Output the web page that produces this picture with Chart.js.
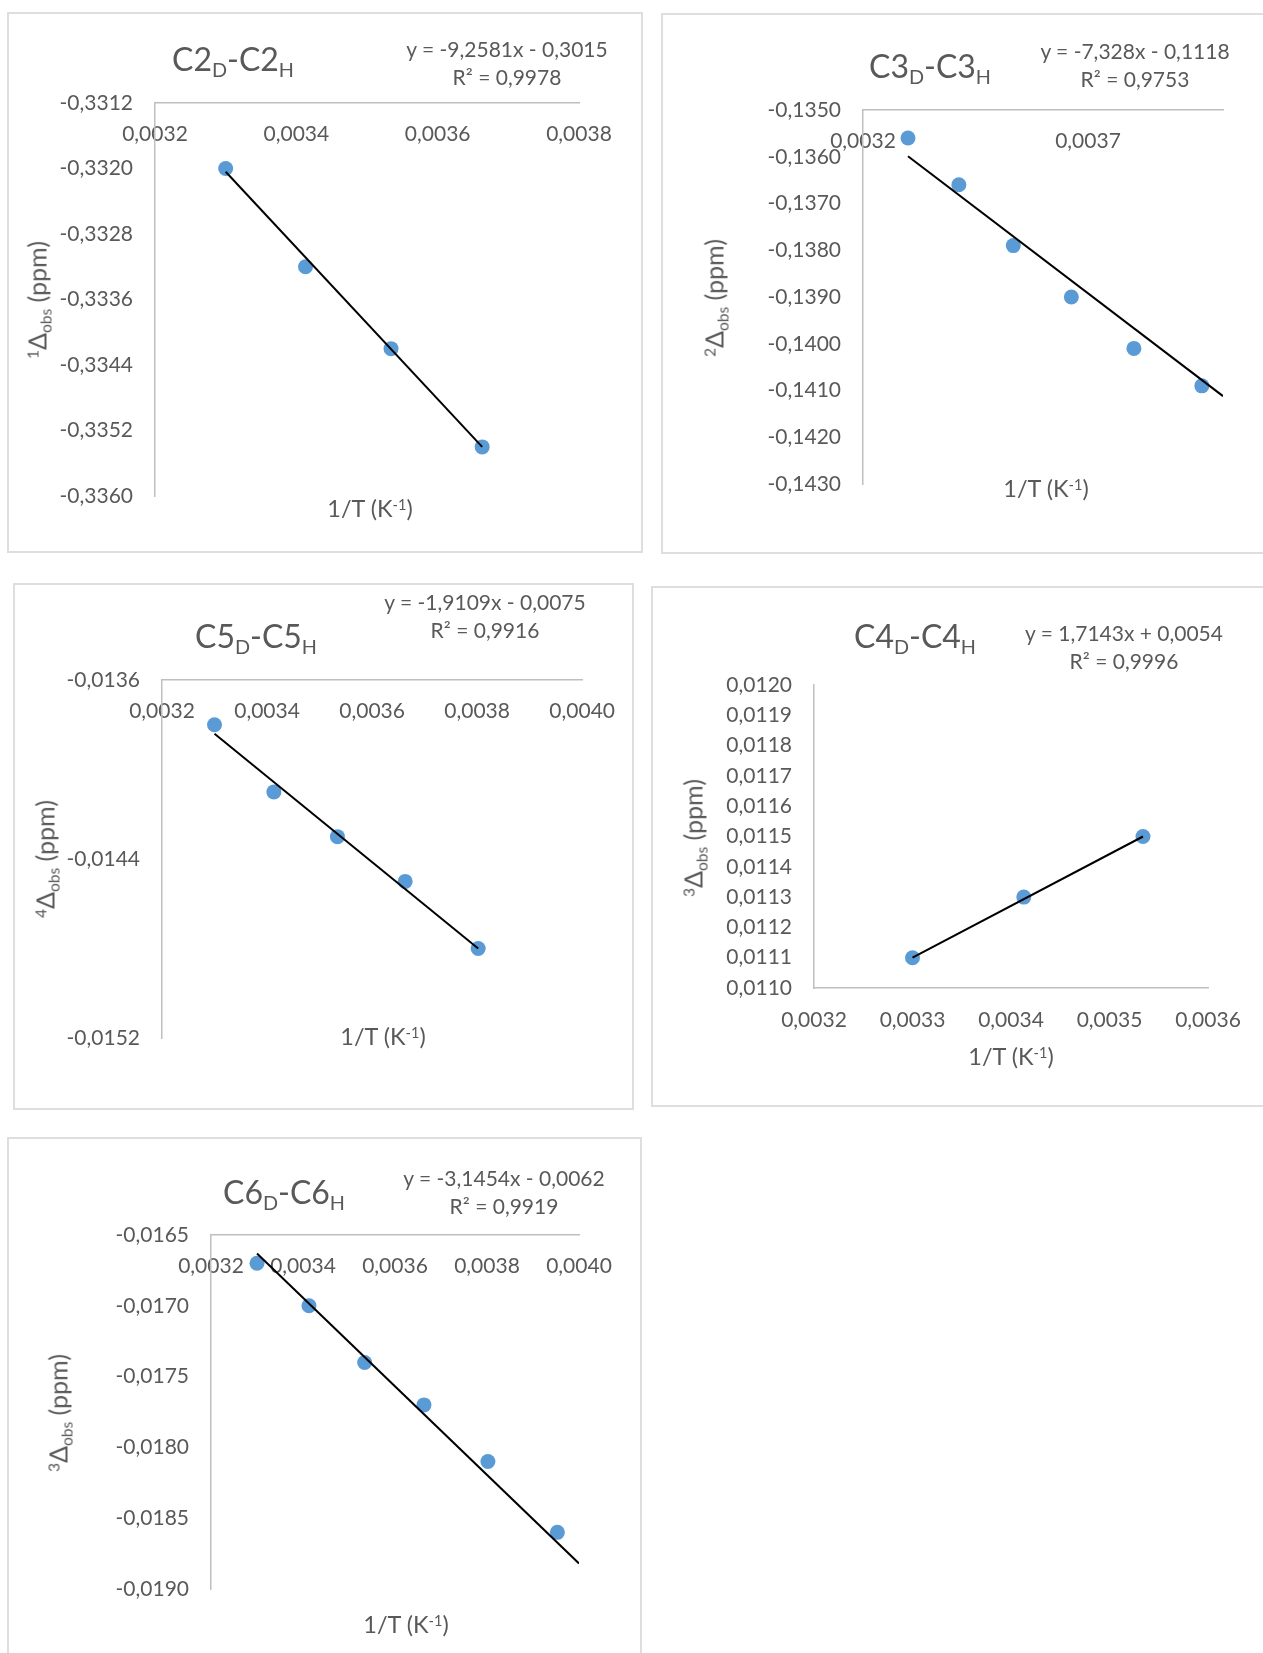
<!DOCTYPE html>
<html>
<head>
<meta charset="utf-8">
<script src="https://cdn.jsdelivr.net/npm/chart.js@4.4.1/dist/chart.umd.min.js"></script>
<style>
  html, body { margin: 0; padding: 0; background: #fff; }
  body {
    width: 1263px; height: 1653px; position: relative; overflow: hidden;
    font-family: Lato, "Open Sans", sans-serif; color: #595959;
  }
  .panel { position: absolute; box-sizing: border-box; border: 2px solid #dedede; }
  canvas { position: absolute; }
  .t { position: absolute; white-space: nowrap; line-height: 1; transform: translate(-50%, -50%); }
  .title { font-size: 32px; }
  .eq { font-size: 21px; line-height: 28px; text-align: center; }
  .ax { font-size: 23.5px; }
  .yt { font-size: 25px; transform: translate(-50%, -50%) rotate(-90deg); }
  sub { font-size: 0.62em; vertical-align: -0.3em; line-height: 0; }
  sup { font-size: 0.62em; vertical-align: 0.5em; line-height: 0; }
</style>
</head>
<body>
<script>
// values

// C2D-C2H
const c2X = [0.003300, 0.003413, 0.003534, 0.003663]
const c2Y = [-0.3320, -0.3332, -0.3342, -0.3354]
const c2TrendX = [0.003300, 0.003663]
const c2TrendY = [-0.33204, -0.33540]
const c2XTicks = [0.0032, 0.0034, 0.0036, 0.0038]
const c2YTicks = [-0.3312, -0.3320, -0.3328, -0.3336, -0.3344, -0.3352, -0.3360]
const c2Eq = ['y = -9,2581x - 0,3015', 'R² = 0,9978']

// C3D-C3H
const c3X = [0.003300, 0.003413, 0.003534, 0.003663, 0.003802, 0.003953]
const c3Y = [-0.1356, -0.1366, -0.1379, -0.1390, -0.1401, -0.1409]
const c3TrendX = [0.003300, 0.004000]
const c3TrendY = [-0.13599, -0.14112]
const c3XTicks = [0.0032, 0.0037]
const c3YTicks = [-0.1350, -0.1360, -0.1370, -0.1380, -0.1390, -0.1400, -0.1410, -0.1420, -0.1430]
const c3Eq = ['y = -7,328x - 0,1118', 'R² = 0,9753']

// C5D-C5H
const c5X = [0.003300, 0.003413, 0.003534, 0.003663, 0.003802]
const c5Y = [-0.0138, -0.0141, -0.0143, -0.0145, -0.0148]
const c5TrendX = [0.003300, 0.003802]
const c5TrendY = [-0.01384, -0.01480]
const c5XTicks = [0.0032, 0.0034, 0.0036, 0.0038, 0.0040]
const c5YTicks = [-0.0136, -0.0144, -0.0152]
const c5Eq = ['y = -1,9109x - 0,0075', 'R² = 0,9916']

// C4D-C4H
const c4X = [0.003300, 0.003413, 0.003534]
const c4Y = [0.0111, 0.0113, 0.0115]
const c4TrendX = [0.003300, 0.003534]
const c4TrendY = [0.01110, 0.01150]
const c4XTicks = [0.0032, 0.0033, 0.0034, 0.0035, 0.0036]
const c4YTicks = [0.0110, 0.0111, 0.0112, 0.0113, 0.0114, 0.0115, 0.0116, 0.0117, 0.0118, 0.0119, 0.0120]
const c4Eq = ['y = 1,7143x + 0,0054', 'R² = 0,9996']

// C6D-C6H
const c6X = [0.003300, 0.003413, 0.003534, 0.003663, 0.003802, 0.003953]
const c6Y = [-0.0167, -0.0170, -0.0174, -0.0177, -0.0181, -0.0186]
const c6TrendX = [0.003300, 0.004000]
const c6TrendY = [-0.01663, -0.01882]
const c6XTicks = [0.0032, 0.0034, 0.0036, 0.0038, 0.0040]
const c6YTicks = [-0.0165, -0.0170, -0.0175, -0.0180, -0.0185, -0.0190]
const c6Eq = ['y = -3,1454x - 0,0062', 'R² = 0,9919']

const xAxisLabel = '1/T (K<sup>-1</sup>)'

// page layout: frame box [left, top, width, height], plot area [left, top, right, bottom]
const panels = [
  {
    box: [7, 12, 636, 541], area: [155, 103, 579, 496], xTop: true, xMin: 0.0032, xMax: 0.0038,
    x: c2X, y: c2Y, trendX: c2TrendX, trendY: c2TrendY, xTicks: c2XTicks, yTicks: c2YTicks, eq: c2Eq,
    title: 'C2<sub>D</sub>-C2<sub>H</sub>', titleAt: [233, 59], eqAt: [507, 63],
    yLabel: '<sup>1</sup>Δ<sub>obs</sub> (ppm)', yLabelAt: [37, 300], xLabelAt: [370, 509]
  },
  {
    box: [661, 13, 636, 541], area: [863, 110, 1223, 484], xTop: true, xMin: 0.0032, xMax: 0.0040,
    x: c3X, y: c3Y, trendX: c3TrendX, trendY: c3TrendY, xTicks: c3XTicks, yTicks: c3YTicks, eq: c3Eq,
    title: 'C3<sub>D</sub>-C3<sub>H</sub>', titleAt: [930, 66], eqAt: [1135, 65],
    yLabel: '<sup>2</sup>Δ<sub>obs</sub> (ppm)', yLabelAt: [714, 298], xLabelAt: [1046, 489]
  },
  {
    box: [13, 583, 621, 527], area: [162, 680, 583, 1038], xTop: true, xMin: 0.0032, xMax: 0.0040,
    x: c5X, y: c5Y, trendX: c5TrendX, trendY: c5TrendY, xTicks: c5XTicks, yTicks: c5YTicks, eq: c5Eq,
    title: 'C5<sub>D</sub>-C5<sub>H</sub>', titleAt: [256, 636], eqAt: [485, 616],
    yLabel: '<sup>4</sup>Δ<sub>obs</sub> (ppm)', yLabelAt: [45, 859], xLabelAt: [383, 1037]
  },
  {
    box: [651, 586, 626, 521], area: [814, 685, 1208, 988], xTop: false, xMin: 0.0032, xMax: 0.0036,
    x: c4X, y: c4Y, trendX: c4TrendX, trendY: c4TrendY, xTicks: c4XTicks, yTicks: c4YTicks, eq: c4Eq,
    title: 'C4<sub>D</sub>-C4<sub>H</sub>', titleAt: [915, 636], eqAt: [1124, 647],
    yLabel: '<sup>3</sup>Δ<sub>obs</sub> (ppm)', yLabelAt: [693, 838], xLabelAt: [1011, 1057]
  },
  {
    box: [7, 1137, 635, 541], area: [211, 1235, 579, 1589], xTop: true, xMin: 0.0032, xMax: 0.0040,
    x: c6X, y: c6Y, trendX: c6TrendX, trendY: c6TrendY, xTicks: c6XTicks, yTicks: c6YTicks, eq: c6Eq,
    title: 'C6<sub>D</sub>-C6<sub>H</sub>', titleAt: [284, 1192], eqAt: [504, 1192],
    yLabel: '<sup>3</sup>Δ<sub>obs</sub> (ppm)', yLabelAt: [58, 1413], xLabelAt: [406, 1625]
  }
]

const tickFont = { family: 'Lato', size: 21 }
const fmt = (v) => v.toFixed(4).replace('.', ',')

// room kept under a bottom x axis for its labels (labels are clipped to the axis box)
const bottomAxisHeight = 60

function addText(cls, html, [x, y]) {
  let el = document.createElement('div')
  el.className = 't ' + cls
  el.innerHTML = html
  el.style.left = x + 'px'
  el.style.top = y + 'px'
  document.body.appendChild(el)
}

function drawPanel(p) {
  let [bl, bt, bw, bh] = p.box
  let [al, at, ar, ab] = p.area
  let xHeight = p.xTop ? 0 : bottomAxisHeight

  let frame = document.createElement('div')
  frame.className = 'panel'
  Object.assign(frame.style, { left: bl + 'px', top: bt + 'px', width: bw + 'px', height: bh + 'px' })
  document.body.appendChild(frame)

  let canvas = document.createElement('canvas')
  canvas.width = bw
  canvas.height = bh
  canvas.style.left = bl + 'px'
  canvas.style.top = bt + 'px'
  document.body.appendChild(canvas)

  let yMin = Math.min(...p.yTicks)
  let yMax = Math.max(...p.yTicks)

  new Chart(canvas, {
    type: 'scatter',
    data: {
      datasets: [
        {
          // trendline drawn above the markers, like Excel
          data: p.trendX.map((x, i) => ({ x, y: p.trendY[i] })),
          showLine: true,
          borderColor: '#000',
          borderWidth: 2,
          pointRadius: 0,
          order: 0
        },
        {
          data: p.x.map((x, i) => ({ x, y: p.y[i] })),
          backgroundColor: '#5b9bd5',
          borderWidth: 0,
          pointRadius: 7.5,
          order: 1
        }
      ]
    },
    options: {
      responsive: false,
      animation: false,
      devicePixelRatio: 1,
      layout: {
        padding: { left: 0, top: at - bt, right: bl + bw - ar, bottom: bt + bh - ab - xHeight }
      },
      plugins: { legend: { display: false }, tooltip: { enabled: false } },
      scales: {
        x: {
          type: 'linear',
          position: p.xTop ? 'top' : 'bottom',
          min: p.xMin,
          max: p.xMax,
          grid: { display: false, drawTicks: false },
          border: { display: true, color: '#bfbfbf', width: 1.5 },
          ticks: {
            mirror: p.xTop,
            padding: p.xTop ? 19 : 20,
            autoSkip: false,
            maxRotation: 0,
            font: tickFont,
            color: '#595959',
            callback: fmt
          },
          afterBuildTicks: (s) => { s.ticks = p.xTicks.map((value) => ({ value })) },
          afterFit: (s) => { s.height = xHeight }
        },
        y: {
          type: 'linear',
          position: 'left',
          min: yMin,
          max: yMax,
          grid: { display: false, drawTicks: false },
          border: { display: true, color: '#bfbfbf', width: 1.5 },
          ticks: { padding: 22, autoSkip: false, font: tickFont, color: '#595959', callback: fmt },
          afterBuildTicks: (s) => { s.ticks = p.yTicks.map((value) => ({ value })) },
          afterFit: (s) => { s.width = al - bl }
        }
      }
    }
  })

  addText('title', p.title, p.titleAt)
  addText('eq', p.eq.join('<br>'), p.eqAt)
  addText('ax yt', p.yLabel, p.yLabelAt)
  addText('ax', xAxisLabel, p.xLabelAt)
}

panels.forEach(drawPanel)
</script>
</body>
</html>
